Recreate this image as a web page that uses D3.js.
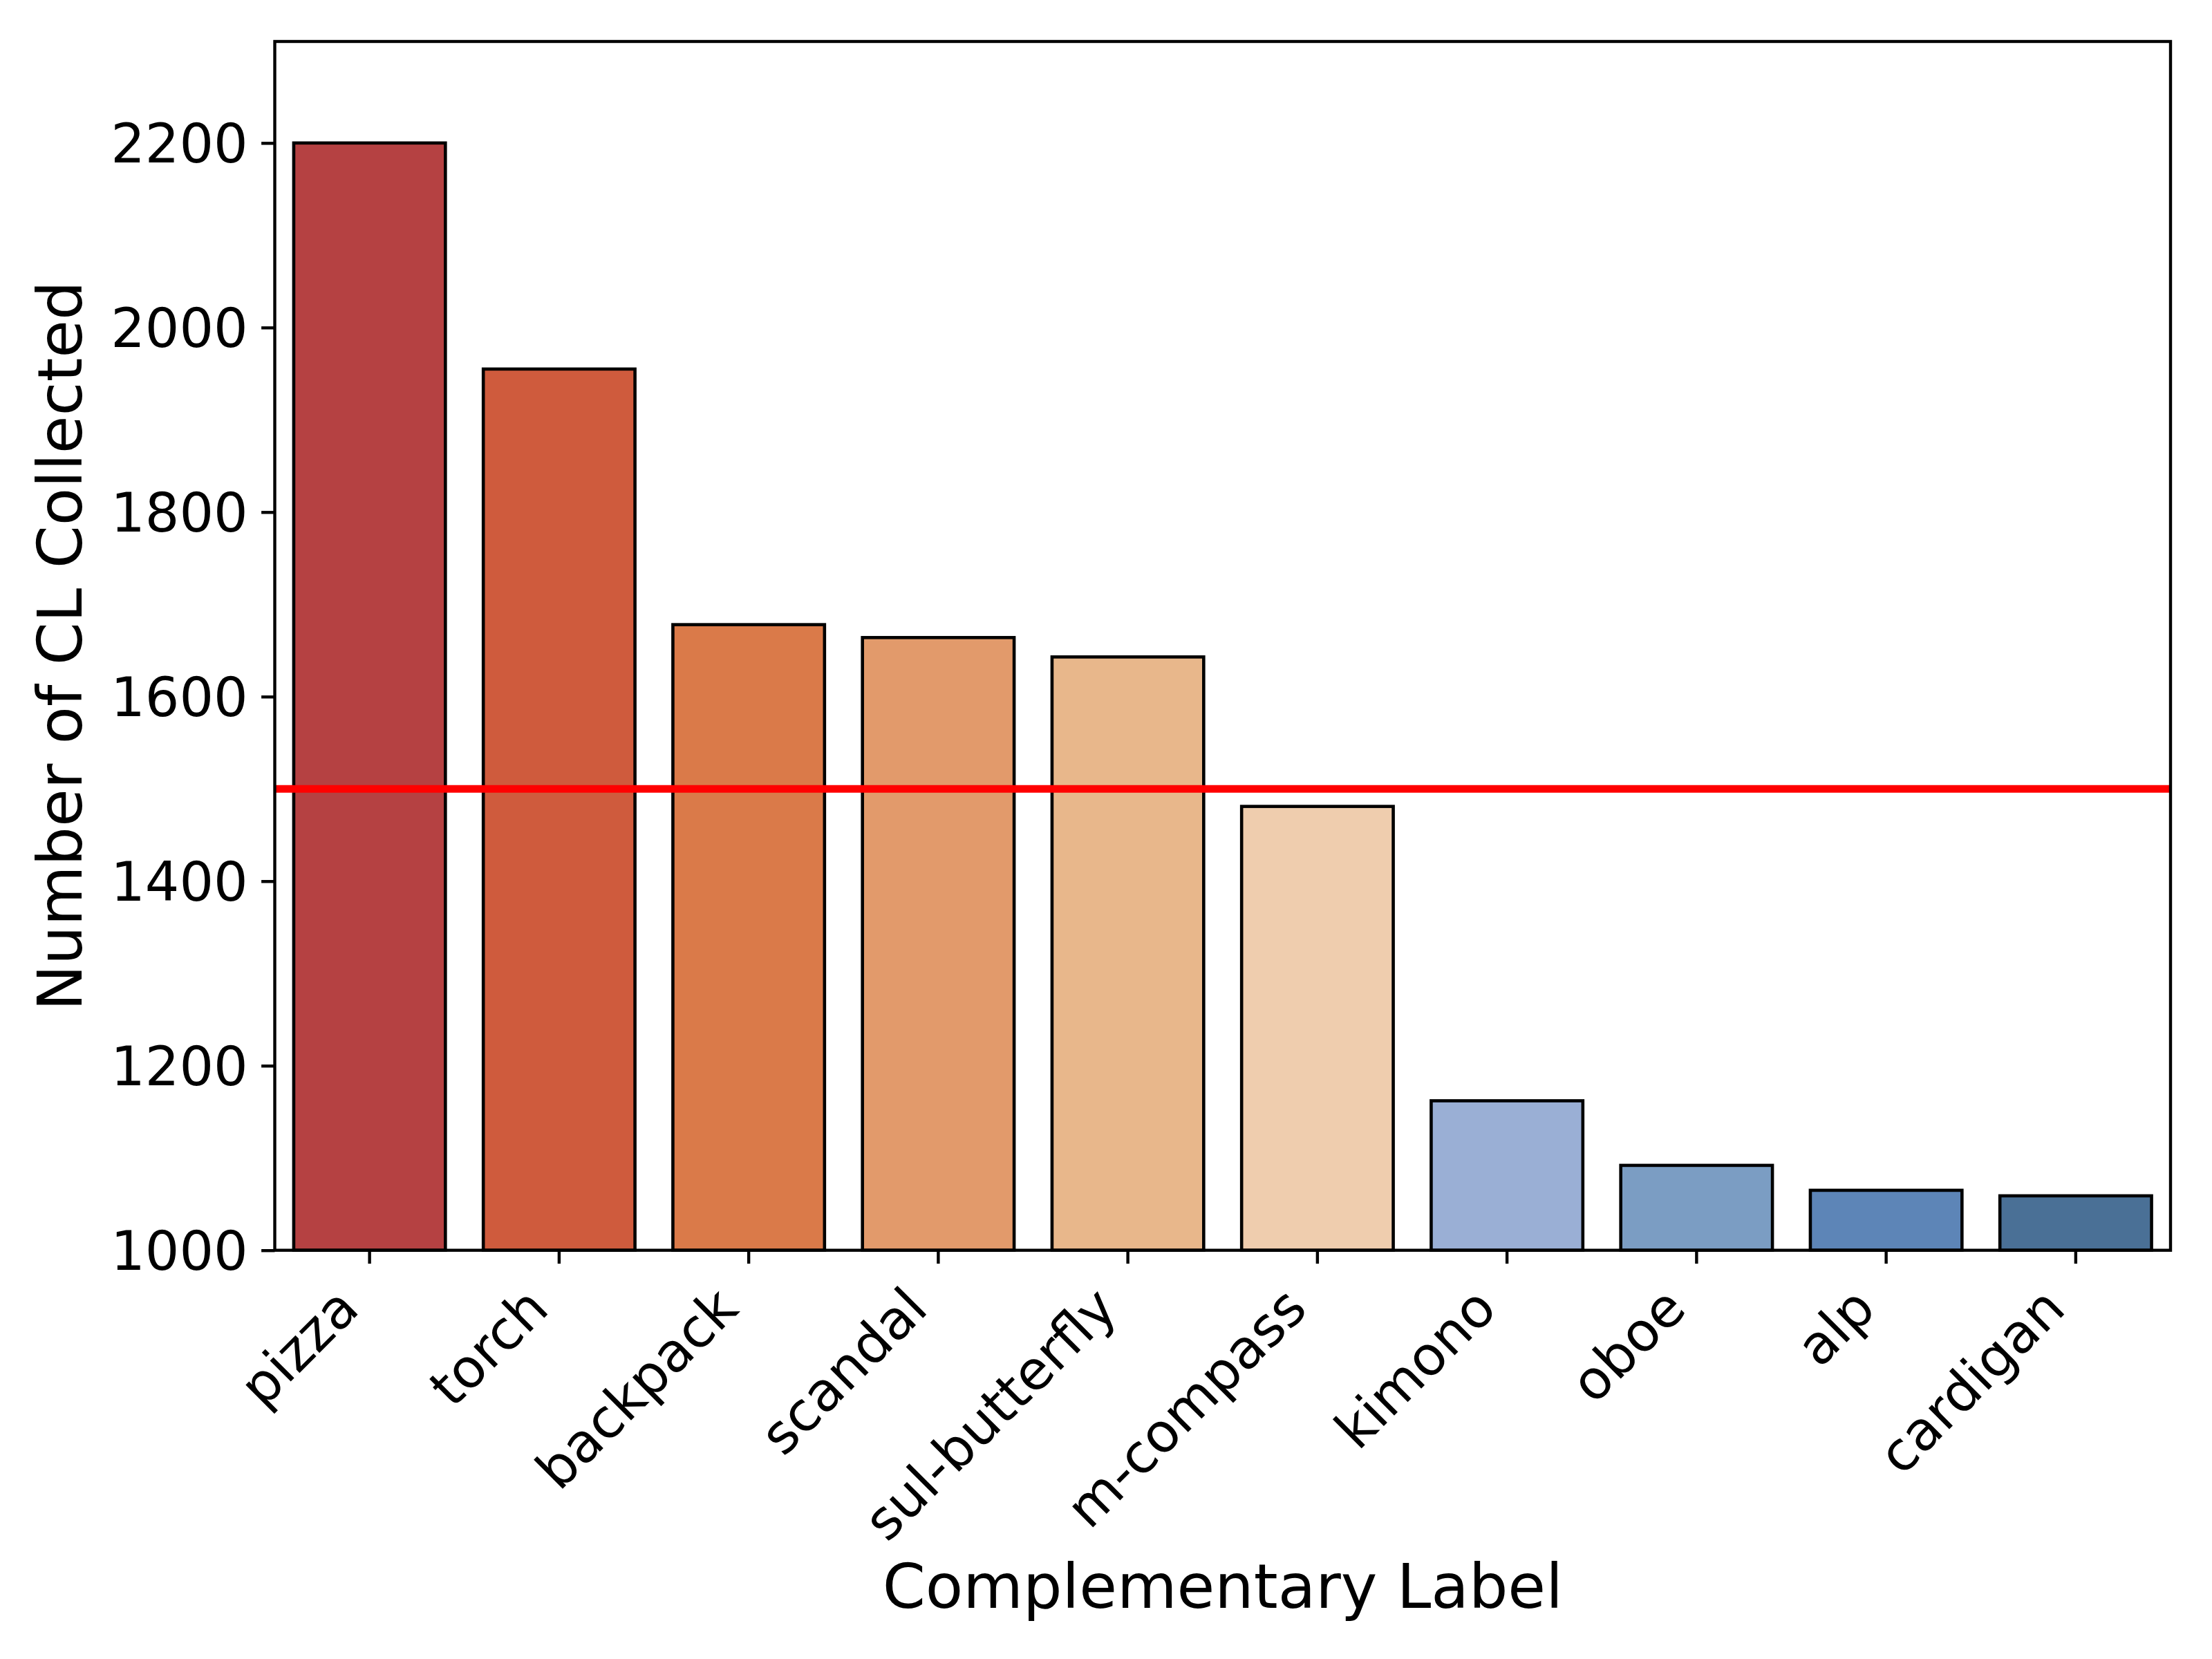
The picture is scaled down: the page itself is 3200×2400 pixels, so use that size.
<!DOCTYPE html>
<html>
<head>
<meta charset="utf-8">
<script src="https://cdn.jsdelivr.net/npm/d3@7"></script>
<style>
html,body{margin:0;padding:0;background:#fff;}
svg{display:block;}
text{font-family:"DejaVu Sans",sans-serif;fill:#000;}
</style>
</head>
<body>
<script>
const categories = ["pizza","torch","backpack","scandal","sul-butterfly","m-compass","kimono","oboe","alp","cardigan"];
const values = [2200,1955,1678,1664,1643,1481,1162,1092,1065,1059];
const barColors = ["#b54142","#cf5b3d","#da7a49","#e29a6b","#e8b78b","#efcdae","#9aafd5","#7b9dc3","#5d85b7","#4a7096"];
const yTicks = [1000,1200,1400,1600,1800,2000,2200];
const threshold = 1500;
const yDomain = [1000, 2310];
const xTitle = "Complementary Label";
const yTitle = "Number of CL Collected";

const W = 3200, H = 2400;
const m = {left: 397.5, right: 3140, top: 60, bottom: 1808.7};

const svg = d3.select("body").append("svg").attr("width", W).attr("height", H);

const x = d3.scaleBand().domain(categories).range([m.left, m.right]).paddingInner(0.2).paddingOuter(0.1);
const y = d3.scaleLinear().domain(yDomain).range([m.bottom, m.top]);

// bars
svg.append("g").selectAll("rect").data(categories).join("rect")
  .attr("x", d => x(d))
  .attr("y", (d,i) => y(values[i]))
  .attr("width", x.bandwidth())
  .attr("height", (d,i) => y(yDomain[0]) - y(values[i]))
  .attr("fill", (d,i) => barColors[i])
  .attr("stroke", "#000")
  .attr("stroke-width", 4.6);

// threshold line
svg.append("line")
  .attr("x1", m.left).attr("x2", m.right)
  .attr("y1", y(threshold)).attr("y2", y(threshold))
  .attr("stroke", "#ff0000").attr("stroke-width", 11);

// y axis
const yAxis = d3.axisLeft(y).tickValues(yTicks).tickSize(19.4).tickPadding(19.4).tickFormat(d3.format("d"));
const gy = svg.append("g").attr("transform", `translate(${m.left},0)`).call(yAxis);
gy.select(".domain").remove();
gy.selectAll(".tick line").attr("stroke", "#000").attr("stroke-width", 4.4);
gy.selectAll(".tick text").attr("font-size", 78).attr("fill", "#000").attr("dy", "0.35em");

// x axis
const xAxis = d3.axisBottom(x).tickSize(19.4).tickFormat(d => d);
const gx = svg.append("g").attr("transform", `translate(0,${m.bottom})`).call(xAxis);
gx.select(".domain").remove();
gx.selectAll(".tick line").attr("stroke", "#000").attr("stroke-width", 4.4);
gx.selectAll(".tick text")
  .attr("font-size", 78)
  .attr("fill", "#000")
  .attr("text-anchor", "end")
  .attr("dy", null)
  .attr("y", null)
  .attr("transform", "translate(-12,88) rotate(-45)");

// frame
svg.append("rect")
  .attr("x", m.left).attr("y", m.top)
  .attr("width", m.right - m.left).attr("height", m.bottom - m.top)
  .attr("fill", "none").attr("stroke", "#000").attr("stroke-width", 4.4);

// titles
svg.append("text")
  .attr("x", (m.left + m.right) / 2).attr("y", 2326)
  .attr("text-anchor", "middle").attr("font-size", 89)
  .text(xTitle);

svg.append("text")
  .attr("transform", `translate(118,${(m.top + m.bottom) / 2}) rotate(-90)`)
  .attr("text-anchor", "middle").attr("font-size", 89)
  .text(yTitle);
</script>
</body>
</html>
